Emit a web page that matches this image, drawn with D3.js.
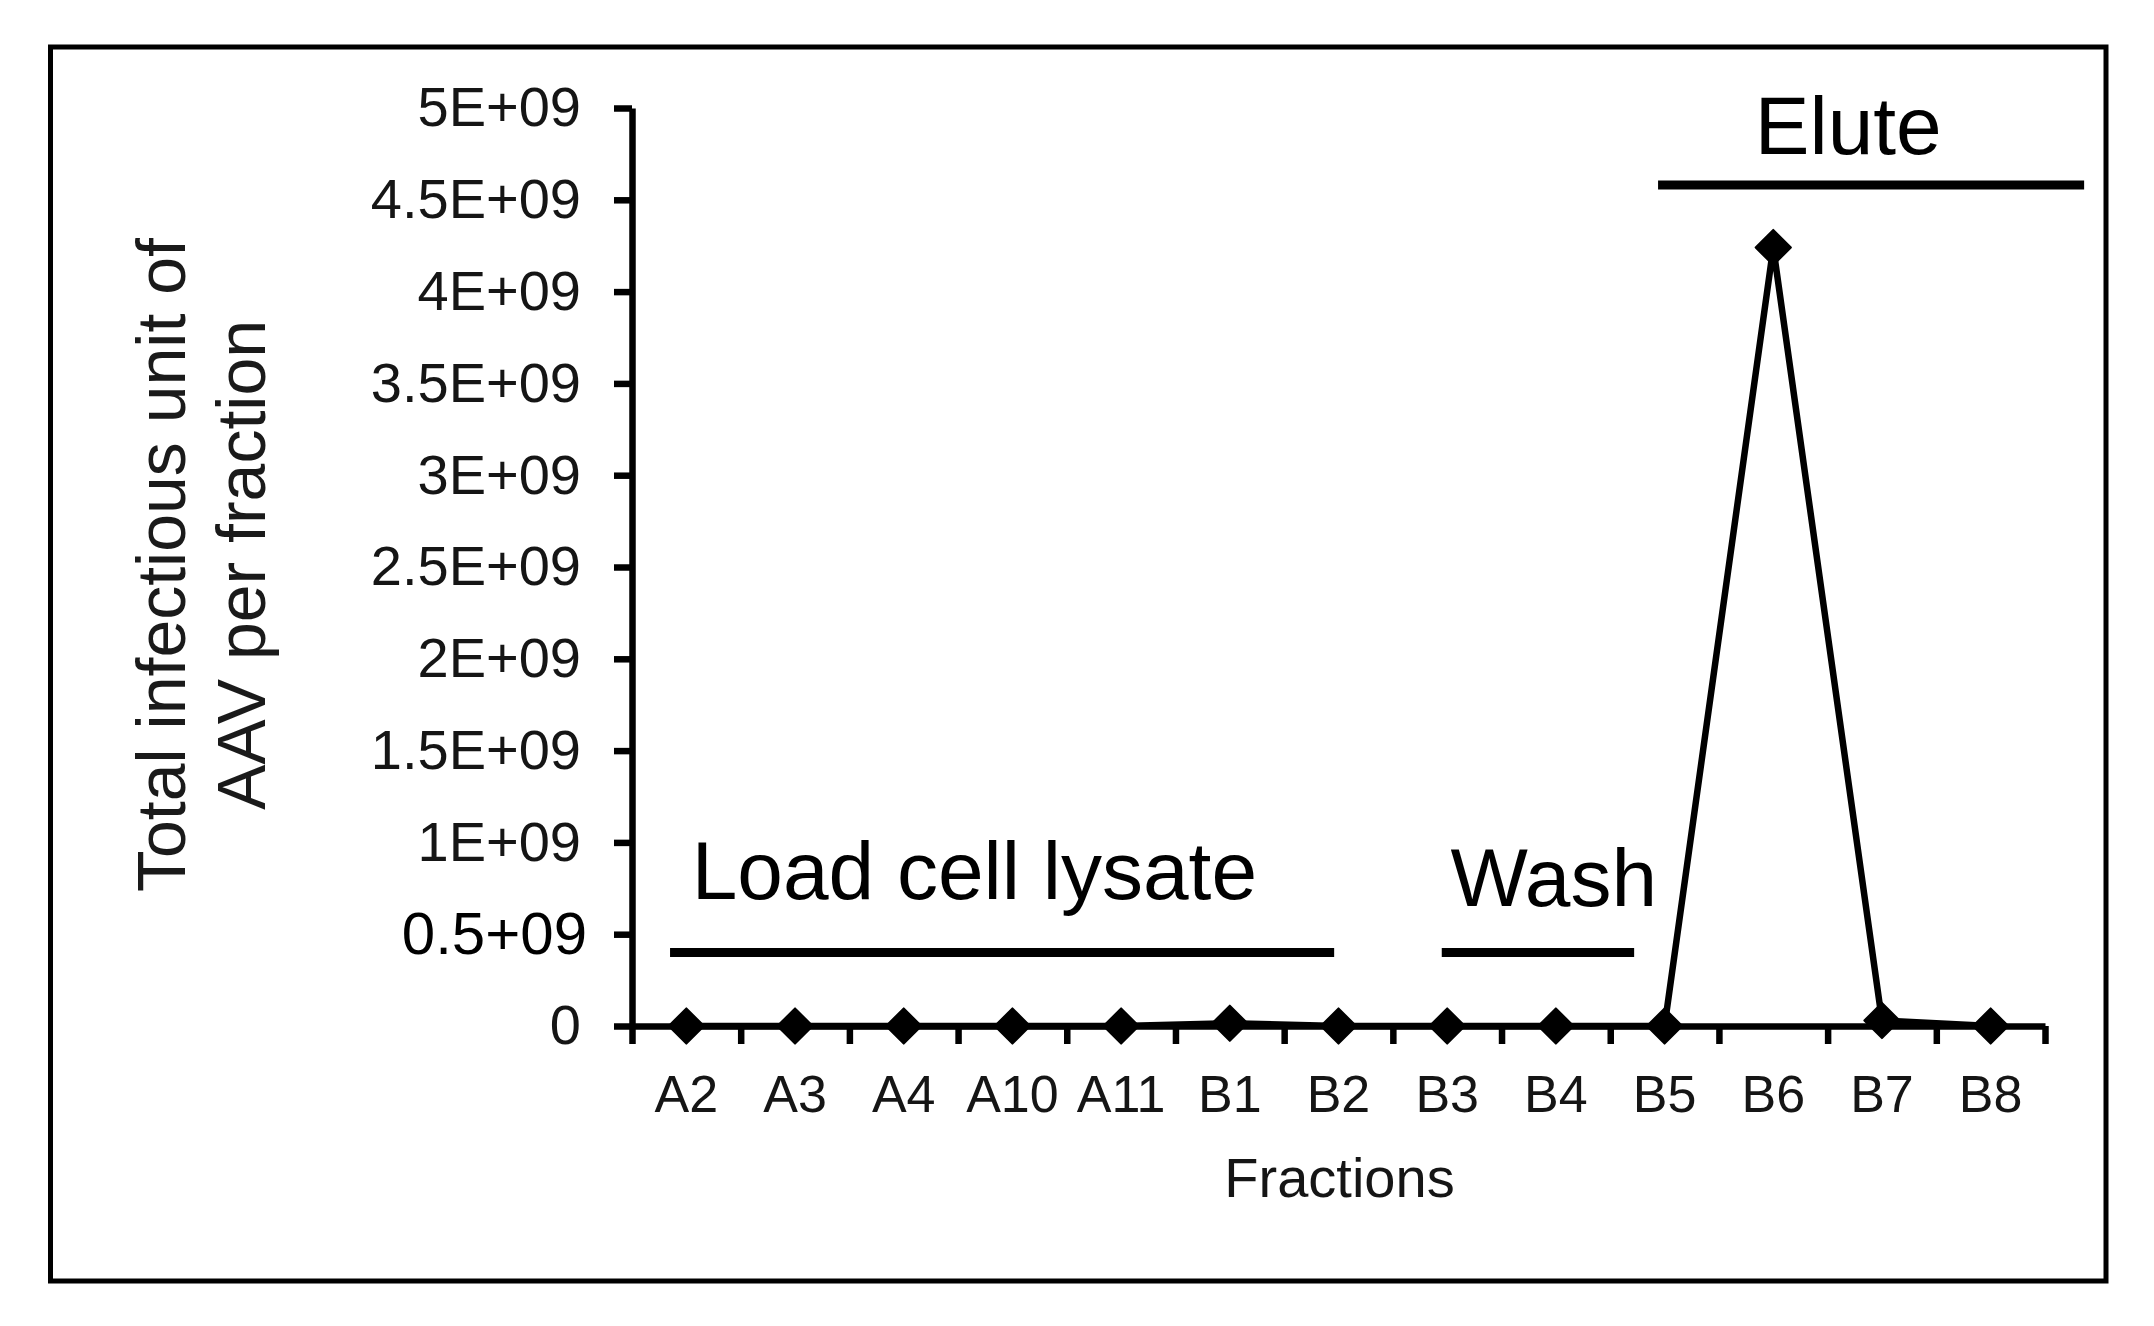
<!DOCTYPE html>
<html>
<head>
<meta charset="utf-8">
<script src="https://cdn.jsdelivr.net/npm/d3@7"></script>
<style>
  html, body { margin: 0; padding: 0; background: #fff; }
  svg { display: block; font-family: "Liberation Sans", Arial, sans-serif; }
</style>
</head>
<body>
<script>
// ---- data ----
const categories = ["A2","A3","A4","A10","A11","B1","B2","B3","B4","B5","B6","B7","B8"];
const values = [0, 0, 0, 0, 0, 1.5e7, 0, 0, 0, 0, 4.24e9, 3e7, 0];
const yTickValues = [0, 0.5e9, 1e9, 1.5e9, 2e9, 2.5e9, 3e9, 3.5e9, 4e9, 4.5e9, 5e9];
const yTickLabels = ["0","0.5+09","1E+09","1.5E+09","2E+09","2.5E+09","3E+09","3.5E+09","4E+09","4.5E+09","5E+09"];
const phaseLabels = ["Load cell lysate","Wash","Elute"];
const xTitle = "Fractions";
const yTitleLines = ["Total infectious unit of","AAV per fraction"];

// ---- layout ----
const W = 2154, H = 1326;
const plot = { left: 632, right: 2045, top: 108, bottom: 1026 };
const svg = d3.select("body").append("svg").attr("width", W).attr("height", H);
svg.append("rect").attr("width", W).attr("height", H).attr("fill", "#fff");

// outer frame
svg.append("rect").attr("x", 50.5).attr("y", 47).attr("width", 2106 - 50.5).attr("height", 1281 - 47)
  .attr("fill", "none").attr("stroke", "#000").attr("stroke-width", 5);

const x = d3.scaleBand().domain(categories).range([plot.left, plot.right]).padding(0);
const xi = d3.scaleLinear().domain([0, categories.length]).range([plot.left, plot.right]);
const y = d3.scaleLinear().domain([0, 5e9]).range([plot.bottom, plot.top]);
const bw = x.bandwidth();

// y axis
const yAxis = svg.append("g").attr("transform", `translate(${plot.left},0)`)
  .call(d3.axisLeft(y).tickValues(yTickValues).tickFormat((d, i) => yTickLabels[i])
    .tickSize(18).tickSizeOuter(0).tickPadding(33));
yAxis.select(".domain").attr("stroke", "#000").attr("stroke-width", 6.5);
yAxis.selectAll(".tick line").attr("stroke", "#000").attr("stroke-width", 6.5);
yAxis.selectAll(".tick text").attr("font-size", 56).attr("fill", "#151515")
  .attr("font-family", "'Liberation Sans', Arial, sans-serif");
yAxis.selectAll(".tick text").filter((d, i) => i === 1)
  .attr("font-size", 60).attr("fill", "#000").attr("x", -45);

// x axis (boundary ticks)
const xAxis = svg.append("g").attr("transform", `translate(0,${plot.bottom})`)
  .call(d3.axisBottom(xi).tickValues(d3.range(categories.length + 1)).tickFormat("")
    .tickSize(18).tickSizeOuter(0));
xAxis.select(".domain").attr("stroke", "#000").attr("stroke-width", 6.5);
xAxis.selectAll(".tick line").attr("stroke", "#000").attr("stroke-width", 6.5);

// x labels
svg.append("g").selectAll("text").data(categories).join("text")
  .attr("x", d => x(d) + bw / 2).attr("y", 1112)
  .attr("text-anchor", "middle").attr("font-size", 52).attr("fill", "#151515")
  .text(d => d);

// x title
svg.append("text").attr("x", (plot.left + plot.right) / 2 + 1).attr("y", 1197)
  .attr("text-anchor", "middle").attr("font-size", 56).attr("fill", "#151515").text(xTitle);

// y title
const yt = svg.append("text").attr("transform", "translate(0,565) rotate(-90)")
  .attr("text-anchor", "middle").attr("font-size", 68).attr("fill", "#1a1a1a");
yt.selectAll("tspan").data(yTitleLines).join("tspan")
  .attr("x", 0).attr("y", (d, i) => i === 0 ? 185 : 265).text(d => d);

// data line
const pts = categories.map((c, i) => ({ c, v: values[i] }));
svg.append("path").datum(pts)
  .attr("d", d3.line().x(d => x(d.c) + bw / 2).y(d => y(d.v)))
  .attr("fill", "none").attr("stroke", "#000").attr("stroke-width", 6.5).attr("stroke-linejoin", "round");

// diamond markers
svg.append("g").selectAll("path").data(pts).join("path")
  .attr("d", d3.symbol(d3.symbolSquare, 620)())
  .attr("transform", d => `translate(${x(d.c) + bw / 2},${y(d.v)}) rotate(45)`)
  .attr("fill", "#000").attr("stroke", "#000").attr("stroke-width", 2).attr("stroke-linejoin", "round");

// phase annotations (spans in band-step units, text positions)
const phaseLayout = [
  { from: 0.35, to: 6.46, lineV: 0.40e9, textX: 0.55, textV: 0.69e9 },
  { from: 7.45, to: 9.22, lineV: 0.40e9, textX: 7.53, textV: 0.655e9 },
  { from: 9.44, to: 13.36, lineV: 4.58e9, textX: 10.33, textV: 4.75e9 }
];
const ann = svg.append("g");
phaseLabels.forEach((lab, i) => {
  const p = phaseLayout[i];
  ann.append("line").attr("x1", xi(p.from)).attr("x2", xi(p.to))
    .attr("y1", y(p.lineV)).attr("y2", y(p.lineV))
    .attr("stroke", "#000").attr("stroke-width", 9);
  ann.append("text").attr("x", xi(p.textX)).attr("y", y(p.textV))
    .attr("font-size", 82).attr("fill", "#000").text(lab);
});
</script>
</body>
</html>
